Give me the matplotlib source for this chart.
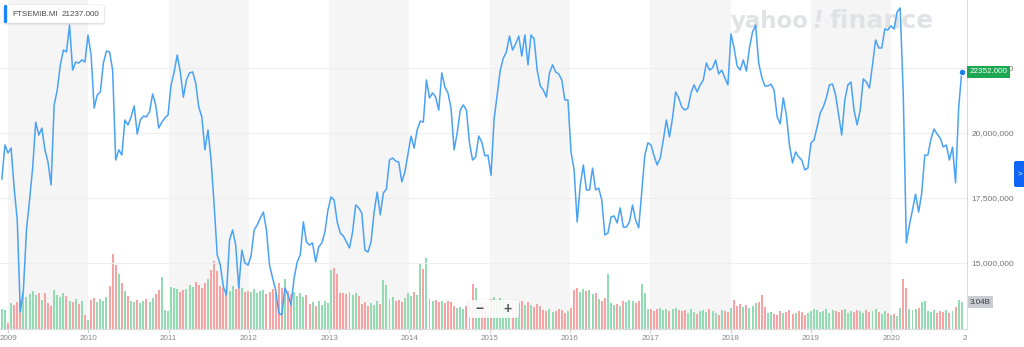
import matplotlib
matplotlib.use("Agg")
import matplotlib.pyplot as plt
from matplotlib.patches import FancyBboxPatch
from matplotlib.transforms import Affine2D, Bbox, TransformedBbox, blended_transform_factory
import pandas as pd

plt.rcParams["font.family"] = ["Liberation Sans", "DejaVu Sans"]

W, H = 1024, 347

symbol = "FTSEMIB.MI"
hover_value = 21237.0
first_date = "2008-12-03"   # fortnightly closes from here on

close = [
    18230, 19540, 19230, 19420, 17880, 16650, 13120, 13960, 16270, 17420,
    18650, 20420, 19920, 20190, 19350, 18880, 18000, 21080, 21650, 22620,
    23190, 23120, 24150, 22420, 22730, 22690, 22810, 22730, 23770, 23000,
    20960, 21460, 21580, 22690, 23150, 23120, 22420, 18960, 19350, 19150,
    20500, 20310, 20620, 21040, 19960, 20500, 20650, 20620, 20810, 21500,
    21080, 20190, 20420, 20580, 20690, 21850, 22350, 23000, 22350, 21380,
    22040, 22310, 22350, 21920, 21000, 20620, 19350, 20120, 18960, 17230,
    15310, 14920, 14080, 13770, 15880, 16270, 15690, 14040, 15500, 15000,
    14920, 15270, 16270, 16460, 16730, 16960, 16270, 14920, 14420, 13960,
    13080, 13000, 14040, 13770, 13380, 14420, 15040, 15310, 16580, 15810,
    15690, 15770, 15040, 15620, 15770, 16190, 17040, 17540, 17420, 16580,
    16150, 16040, 15810, 15580, 16190, 17230, 17120, 16920, 15500, 15420,
    15810, 16960, 17730, 16850, 17690, 17850, 18960, 19040, 18920, 18880,
    18120, 18500, 19190, 19880, 19420, 20120, 20460, 20420, 22040, 21350,
    21540, 21380, 20880, 22310, 21770, 21540, 20960, 19350, 20000, 20880,
    21080, 20880, 19620, 18960, 19080, 19880, 19650, 19120, 19150, 18380,
    20540, 21460, 22420, 22880, 23120, 23730, 23190, 23420, 23730, 22960,
    23770, 22620, 23770, 23620, 22420, 21810, 21650, 21380, 22310, 22620,
    22350, 22270, 22040, 21270, 21270, 19270, 18580, 16580, 18000, 18770,
    17810, 17810, 18650, 17810, 17880, 17420, 16080, 16150, 16770, 16810,
    16540, 17120, 16380, 16380, 16580, 17230, 16650, 16350, 17730, 19150,
    19620, 19540, 19120, 18770, 19040, 19730, 20500, 19850, 20580, 21580,
    21350, 21000, 20880, 20960, 21540, 21850, 21580, 21850, 22040, 22690,
    22420, 22500, 22810, 22270, 22420, 22120, 21850, 23810, 23270, 22580,
    22420, 22810, 22380, 23270, 23880, 24150, 22690, 22150, 21810, 21810,
    21880, 21650, 20620, 20350, 21350, 20690, 19540, 18850, 19270, 19080,
    18960, 18580, 18650, 19620, 19730, 20230, 20770, 21000, 21350, 21850,
    21880, 21460, 20690, 19920, 21270, 21850, 21960, 20880, 20310, 20880,
    22080, 21960, 21730, 22620, 23580, 23270, 23270, 24000, 23960, 24120,
    24000, 24650, 24810, 21460, 15770, 16460, 17040, 17650, 16960, 17690,
    19150, 19150, 19770, 20150, 19960, 19810, 19460, 19540, 18960, 19460,
    18080, 20960, 22352,
]

# traded volume, billions of shares
volume = [
    2.3, 2.1, 0.7, 2.9, 2.7, 3.0, 3.3, 4.0, 3.6, 3.9,
    4.3, 3.8, 4.1, 3.3, 4.0, 2.9, 2.6, 4.4, 3.8, 3.6,
    4.0, 3.7, 3.2, 3.0, 3.4, 2.8, 3.1, 1.6, 1.0, 3.3,
    3.5, 3.0, 3.4, 3.2, 3.6, 4.8, 8.5, 7.2, 6.2, 5.2,
    4.3, 3.7, 3.2, 3.0, 3.3, 2.9, 3.2, 3.4, 3.0, 3.5,
    3.9, 4.4, 5.8, 2.1, 2.0, 4.7, 4.6, 4.5, 4.2, 4.4,
    4.5, 5.0, 4.7, 5.3, 4.9, 4.6, 5.2, 5.6, 6.6, 7.7,
    6.5, 4.8, 4.6, 4.4, 4.3, 4.8, 4.5, 5.0, 4.6, 4.2,
    4.3, 4.2, 4.5, 4.0, 4.3, 4.4, 3.9, 4.2, 4.5, 4.1,
    5.2, 4.6, 5.6, 4.3, 3.9, 4.2, 3.7, 4.0, 3.6, 3.8,
    2.8, 3.0, 2.6, 3.2, 2.7, 3.1, 2.9, 6.6, 6.9, 6.2,
    4.0, 4.1, 3.9, 4.2, 3.8, 4.0, 3.7, 2.8, 3.0, 2.6,
    2.9, 2.7, 3.1, 2.8, 5.5, 5.0, 3.4, 3.6, 3.2, 3.3,
    3.0, 3.5, 4.0, 3.7, 4.2, 3.8, 7.4, 6.8, 8.0, 3.4,
    3.2, 3.3, 3.0, 3.2, 2.9, 3.1, 3.0, 2.6, 2.4, 2.5,
    2.2, 2.6, 3.0, 5.1, 4.6, 2.8, 3.0, 2.6, 2.9, 3.4,
    3.6, 3.2, 3.5, 3.3, 3.1, 3.2, 3.0, 3.3, 2.9, 3.1,
    2.7, 3.0, 2.7, 2.5, 2.8, 2.6, 2.1, 2.0, 2.2, 1.9,
    2.0, 2.3, 2.1, 1.8, 2.0, 2.4, 4.4, 4.6, 4.2, 4.5,
    4.3, 4.4, 3.9, 4.1, 3.4, 3.2, 3.5, 6.2, 2.9, 2.7,
    2.8, 2.6, 3.2, 3.0, 3.3, 3.1, 2.9, 3.2, 5.1, 4.0,
    2.2, 2.3, 2.0, 2.2, 2.4, 2.1, 2.3, 2.0, 2.2, 2.4,
    2.1, 2.0, 2.1, 1.8, 2.2, 1.9, 1.7, 2.0, 2.1, 1.9,
    2.2, 2.0, 1.8, 1.6, 2.1, 2.0, 1.9, 2.4, 3.3, 2.6,
    2.8, 2.5, 2.7, 2.4, 2.6, 2.9, 3.0, 3.8, 2.5, 1.8,
    1.9, 1.7, 1.6, 2.0, 1.8, 1.9, 2.1, 1.7, 1.8, 2.0,
    1.9, 1.6, 1.8, 2.0, 2.2, 2.1, 1.9, 2.0, 2.2, 1.8,
    2.1, 2.0, 1.9, 2.1, 2.2, 1.8, 2.0, 1.9, 2.1, 2.0,
    1.8, 2.1, 1.9, 2.0, 2.2, 1.9, 1.7, 2.0, 1.8, 1.6,
    1.7, 1.5, 2.4, 5.6, 4.6, 2.3, 2.1, 2.2, 2.4, 3.0,
    3.2, 2.0, 1.9, 2.1, 1.8, 2.0, 1.9, 2.1, 1.8, 2.0,
    2.5, 3.3, 3.04,
]

price_ticks = [15000, 17500, 20000, 22500]
year_labels = list(range(2009, 2022))
shaded_years = [2009, 2011, 2013, 2015, 2017, 2019]

assert len(close) == len(volume), (len(close), len(volume))
dates = pd.date_range(first_date, periods=len(close), freq="14D")

LINE = "#4aa2f4"
UP, DOWN = "#93dbb3", "#f7a3a3"
bar_colors = [UP if i == 0 or close[i] >= close[i - 1] else DOWN for i in range(len(close))]

fig = plt.figure(figsize=(W / 100, H / 100), dpi=100)
fig.patch.set_facecolor("white")
# pixel coordinates, origin top-left
pix = Affine2D().scale(1 / W, -1 / H).translate(0, 1) + fig.transFigure

rect = [0, 18 / H, 967 / W, 329 / H]
ax_vol = fig.add_axes(rect)
ax = fig.add_axes(rect, sharex=ax_vol)
ax.patch.set_visible(False)

x0, x1 = pd.Timestamp("2008-11-24 12:00"), pd.Timestamp("2020-12-12")

# background year bands and volume bars
for y in shaded_years:
    ax_vol.axvspan(pd.Timestamp(y, 1, 1), pd.Timestamp(y + 1, 1, 1), color="#f5f5f5", lw=0, zorder=0)
ax_vol.bar(dates, volume, width=9, color=bar_colors, lw=0, zorder=2)
ax_vol.set_ylim(0, 37.05)
ax_vol.set_xlim(x0, x1)
ax_vol.axis("off")

# watermark
mark = dict(transform=pix, fontweight="bold", family="DejaVu Sans", color="#e0e2e6",
            va="baseline", zorder=1)
ax_vol.text(731, 28, "yahoo", fontsize=16.5, ha="left", **mark)
ax_vol.text(818, 28, "!", fontsize=17, style="italic", ha="center", **mark)
ax_vol.text(934, 28, "finance", fontsize=18, ha="right", **mark)

# price line
ax.plot(dates, close, color=LINE, lw=1.1, zorder=3)
ax.plot(dates[-1], close[-1], "o", ms=4.5, color="#1b84f2", mec="white", mew=0.5,
        zorder=5, clip_on=False)
ax.set_xlim(x0, x1)
ax.set_ylim(12461, 25115)

ax.set_yticks(price_ticks)
ax.set_yticklabels([f"{v * 1000:,.0f}" for v in price_ticks])
ax.yaxis.tick_right()
ax.yaxis.grid(True, color="#eeeeee", lw=0.8)
ax.tick_params(axis="y", length=0, pad=3, labelsize=6, labelcolor="#757575")

ax.set_xticks([pd.Timestamp(y, 1, 1) for y in year_labels if y <= 2020])
ax.set_xticklabels([])
ax.tick_params(axis="x", length=3, width=0.8, color="#d0d0d0")

for side in ("top", "left"):
    ax.spines[side].set_visible(False)
for side in ("right", "bottom"):
    ax.spines[side].set_color("#dcdcdc")
    ax.spines[side].set_linewidth(0.8)

# year labels, clipped at the right edge of the plot
clip = TransformedBbox(Bbox.from_extents(0, 0, 967 / W, 1), fig.transFigure)
xlab = blended_transform_factory(ax.transData, pix)
for y in year_labels:
    t = ax.text(pd.Timestamp(y, 1, 1), 339, str(y), transform=xlab, fontsize=5.8,
                color="#888888", ha="center", va="center")
    t.set_clip_box(clip)
    t.set_clip_on(True)

# legend chip
for pad, a in ((1.5, 0.04), (0.7, 0.07)):
    fig.add_artist(FancyBboxPatch((4 - pad, 5 - pad + 0.6), 100 + 2 * pad, 18 + 2 * pad,
                                  boxstyle="round,pad=0,rounding_size=3", transform=pix,
                                  fc="black", ec="none", alpha=a))
fig.add_artist(FancyBboxPatch((4, 5), 100, 18, boxstyle="round,pad=0,rounding_size=2.5",
                              transform=pix, fc="white", ec="none"))
fig.add_artist(FancyBboxPatch((4, 5), 3.2, 18, boxstyle="round,pad=0,rounding_size=1.2",
                              transform=pix, fc="#1a86fb", ec="none"))
fig.text(12, 14.5, symbol, transform=pix, fontsize=5.8, color="#4a4a4a", va="center")
fig.text(62, 14.5, f"{hover_value:.3f}", transform=pix, fontsize=5.8, color="#4a4a4a", va="center")

# last price and last volume tags
ax.text(1.0027, close[-1], f"{close[-1]:.3f}", transform=blended_transform_factory(ax.transAxes, ax.transData),
        fontsize=5.8, color="white", va="center", ha="left", zorder=6, clip_on=False,
        bbox=dict(boxstyle="square,pad=0.32", fc="#1ea753", ec="none"))
ax_vol.text(1.0027, volume[-1], f"{volume[-1]:.2f}B",
            transform=blended_transform_factory(ax_vol.transAxes, ax_vol.transData),
            fontsize=5.8, color="#3a3a3a", va="center", ha="left", zorder=6, clip_on=False,
            bbox=dict(boxstyle="square,pad=0.32", fc="#c9ccd1", ec="none"))

# side toggle button
fig.add_artist(FancyBboxPatch((1014, 161), 12, 26, boxstyle="round,pad=0,rounding_size=2",
                              transform=pix, fc="#0f65f6", ec="none"))
fig.text(1019.5, 174, ">", transform=pix, fontsize=5.5, color="white", ha="center", va="center")

# zoom control
fig.add_artist(FancyBboxPatch((466, 299.5), 54, 19, boxstyle="round,pad=0,rounding_size=2.5",
                              transform=pix, fc="black", ec="none", alpha=0.05))
fig.add_artist(FancyBboxPatch((467, 300), 52, 18, boxstyle="round,pad=0,rounding_size=2",
                              transform=pix, fc="white", ec="none", alpha=0.88))
fig.text(480, 309, "\u2212", transform=pix, fontsize=10, fontweight="bold", color="#555555",
         ha="center", va="center")
fig.text(507, 309, "+", transform=pix, fontsize=10, fontweight="bold", color="#555555",
         ha="center", va="center")

fig.savefig("out.png", dpi=100)
